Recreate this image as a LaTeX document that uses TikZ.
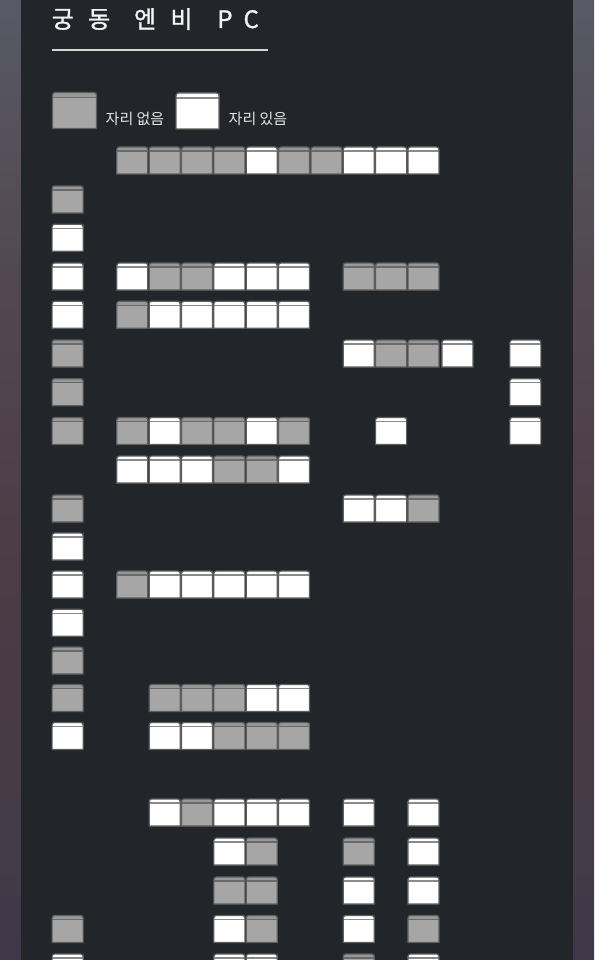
\documentclass[tikz,border=0pt]{standalone}
\usepackage{fontspec}
\newfontfamily\krfont{Noto Sans CJK KR}
\newfontfamily\krtitle[LetterSpace=60, FakeBold=1.2]{Noto Sans CJK KR}
\definecolor{panel}{HTML}{222529}
\definecolor{seatG}{HTML}{A6A6A6}
\definecolor{capG}{HTML}{989898}
\definecolor{lineG}{HTML}{6A6A6A}
\definecolor{seatW}{HTML}{FFFFFF}
\definecolor{capW}{HTML}{FFFFFF}
\definecolor{lineW}{HTML}{8A8A8A}
\definecolor{edge}{HTML}{5E5E5E}
\definecolor{titlecol}{HTML}{F4F4F4}
\definecolor{legendcol}{HTML}{E6E6E6}
\definecolor{rulecol}{HTML}{D5D5D5}
\definecolor{s0}{HTML}{2B3040}
\definecolor{s1}{HTML}{363448}
\definecolor{s2}{HTML}{443A48}
\definecolor{s3}{HTML}{4B3C45}
\definecolor{s4}{HTML}{524751}
\definecolor{s5}{HTML}{59606B}
\definecolor{s6}{HTML}{5E6976}
\pgfdeclareverticalshading{sideshade}{100bp}{color(0bp)=(s0); color(15bp)=(s1); color(30bp)=(s2); color(45bp)=(s3); color(60bp)=(s4); color(80bp)=(s5); color(100bp)=(s6)}
\tikzset{
  seatedge/.style={draw=edge, line width=1.2pt},
  legendtext/.style={anchor=base west, inner sep=0pt, text=legendcol, font=\krfont\fontsize{15}{18}\selectfont},
  titletext/.style={anchor=base west, inner sep=0pt, text=titlecol, font=\krtitle\fontsize{24}{28}\selectfont},
}
% #1 x, #2 y, #3 w, #4 h, #5 kind (W/G), #6 cap height
\newcommand\seatbox[6]{%
  \fill[seat#5] (#1,#2+#4) -- (#1,#2+#4/2) [rounded corners=2.5pt] -- (#1,#2) -- (#1+#3,#2) -- (#1+#3,#2+#4/2) [sharp corners] -- (#1+#3,#2+#4) -- cycle;
  \fill[cap#5] (#1,#2+#6) -- (#1,#2+#6/2) [rounded corners=2.5pt] -- (#1,#2) -- (#1+#3,#2) -- (#1+#3,#2+#6/2) [sharp corners] -- (#1+#3,#2+#6) -- cycle;
  \draw[line#5, line width=1.1pt] (#1,#2+#6) -- (#1+#3,#2+#6);
  \draw[seatedge] (#1,#2+#4) -- (#1,#2+#4/2) [rounded corners=2.5pt] -- (#1,#2) -- (#1+#3,#2) -- (#1+#3,#2+#4/2) [sharp corners] -- (#1+#3,#2+#4) -- cycle;
}
\newcommand\seatrow[2]{%
  \foreach \c/\k in {#2}{\seatbox{116.8+\c*32.35}{#1}{31}{27}{\k}{4}}%
}
\begin{document}
\begin{tikzpicture}[x=1pt, y=-1pt]
\useasboundingbox (0,0) rectangle (594,960);
\clip (0,0) rectangle (594,960);
\shade[shading=sideshade] (0,0) rectangle (594,960);
\fill[panel] (21,0) rectangle (573,960);
% title
\node[titletext] (title) at (51.5,28) {궁동 \hspace{4pt}엔비 \hspace{5pt}P\hspace{11pt}C};
\coordinate (ruleL) at (52,50);
\coordinate (ruleR) at (268,50);
\draw[rulecol, line width=1.8pt] (ruleL) -- (ruleR);
% legend
\seatbox{52.5}{92.5}{44}{36}{G}{5}
\node[legendtext] (nolabel) at (105.5,124.5) {자리 없음};
\seatbox{176}{93}{43}{36}{W}{5}
\node[legendtext] (yeslabel) at (228.5,124.5) {자리 있음};
% seats
\seatrow{147}{0/G,1/G,2/G,3/G,4/W,5/G,6/G,7/W,8/W,9/W}
\seatrow{186}{-2/G}
\seatrow{224.3}{-2/W}
\seatrow{263}{-2/W,0/W,1/G,2/G,3/W,4/W,5/W,7/G,8/G,9/G}
\seatrow{301.3}{-2/W,0/G,1/W,2/W,3/W,4/W,5/W}
\seatrow{340}{-2/G,7/W,8/G,9/G,10.05/W,12.15/W}
\seatrow{378.7}{-2/G,12.15/W}
\seatrow{417.5}{-2/G,0/G,1/W,2/G,3/G,4/W,5/G,8/W,12.15/W}
\seatrow{456}{0/W,1/W,2/W,3/G,4/G,5/W}
\seatrow{495}{-2/G,7/W,8/W,9/G}
\seatrow{533}{-2/W}
\seatrow{571}{-2/W,0/G,1/W,2/W,3/W,4/W,5/W}
\seatrow{609.3}{-2/W}
\seatrow{647}{-2/G}
\seatrow{684.5}{-2/G,1/G,2/G,3/G,4/W,5/W}
\seatrow{722.5}{-2/W,1/W,2/W,3/G,4/G,5/G}
\seatrow{799}{1/W,2/G,3/W,4/W,5/W,7/W,9/W}
\seatrow{838}{3/W,4/G,7/G,9/W}
\seatrow{877}{3/G,4/G,7/W,9/W}
\seatrow{915.5}{-2/G,3/W,4/G,7/W,9/G}
\seatrow{954}{-2/W,3/W,4/W,7/G,9/W}
\end{tikzpicture}
\end{document}
